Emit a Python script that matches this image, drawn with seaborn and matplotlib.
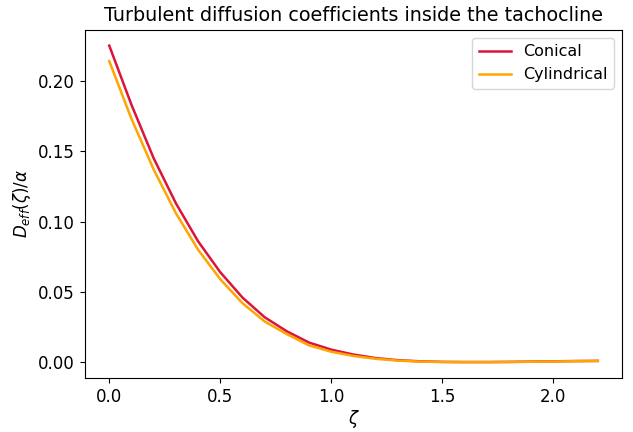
import numpy as np
import pandas as pd
import seaborn as sns
import matplotlib.pyplot as plt

zeta = np.round(np.arange(0, 2.21, 0.1), 1)
conical = [0.225, 0.183, 0.145, 0.113, 0.086, 0.064, 0.046, 0.032, 0.022, 0.014,
           0.009, 0.0055, 0.003, 0.0015, 0.0007, 0.0003, 0.0002, 0.0002, 0.0003,
           0.0005, 0.0007, 0.0009, 0.001]
cylindrical = [0.214, 0.173, 0.137, 0.106, 0.080, 0.059, 0.042, 0.029, 0.020, 0.012,
               0.0075, 0.0045, 0.0025, 0.0012, 0.0005, 0.0002, 0.0001, 0.0001, 0.0002,
               0.0004, 0.0006, 0.0008, 0.001]

df = pd.DataFrame({"zeta": np.concatenate([zeta, zeta]),
                   "D": conical + cylindrical,
                   "model": ["Conical"] * len(zeta) + ["Cylindrical"] * len(zeta)})

fig, ax = plt.subplots(figsize=(6.33, 4.32), dpi=100)
sns.lineplot(data=df, x="zeta", y="D", hue="model", linewidth=1.8,
             palette={"Conical": "crimson", "Cylindrical": "orange"}, ax=ax)
ax.legend(title=None, loc="upper right", fontsize=11.5)
ax.set_title("Turbulent diffusion coefficients inside the tachocline", fontsize=13.8)
ax.set_xlabel(r"$\zeta$", fontsize=12, labelpad=2)
ax.set_ylabel(r"$D_{eff}(\zeta)/\alpha$", fontsize=12)
ax.tick_params(labelsize=12)
fig.subplots_adjust(left=0.134, right=0.983, top=0.931, bottom=0.125)
fig.savefig("out.png")
